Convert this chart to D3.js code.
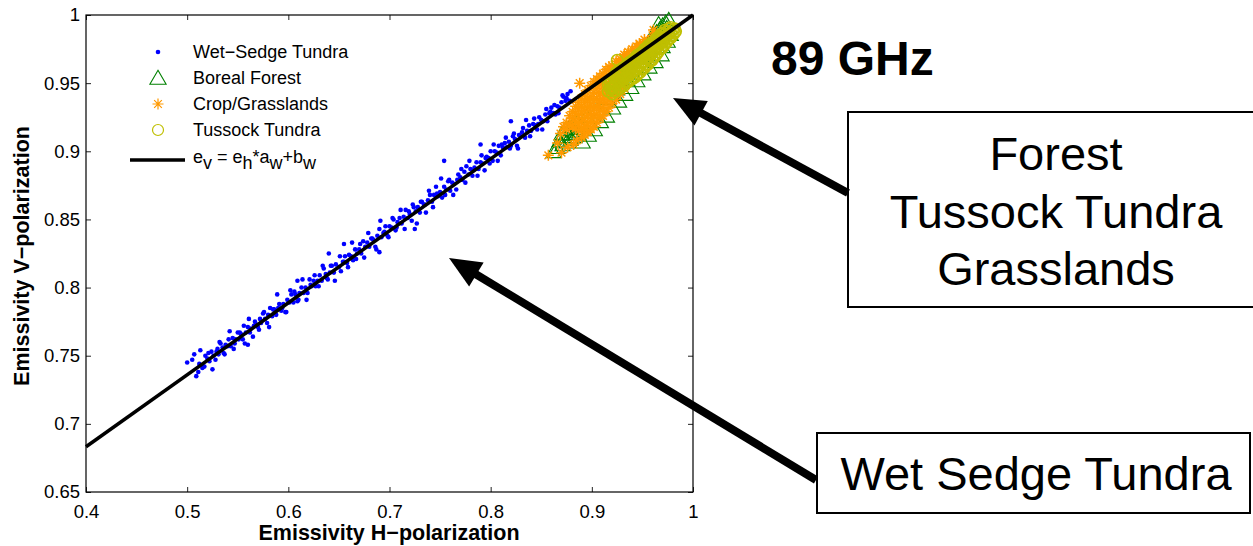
<!DOCTYPE html>
<html>
<head>
<meta charset="utf-8">
<script src="https://cdn.jsdelivr.net/npm/d3@7"></script>
<style>
  body { margin: 0; background: #fff; }
  svg { display: block; font-family: "Liberation Sans", Arial, Helvetica, sans-serif; }
</style>
</head>
<body>
<div class="chart"></div>
<script>
// Axis ticks and labels
var xTicks = [0.4, 0.5, 0.6, 0.7, 0.8, 0.9, 1];
var xTickLabels = ["0.4", "0.5", "0.6", "0.7", "0.8", "0.9", "1"];
var yTicks = [0.65, 0.7, 0.75, 0.8, 0.85, 0.9, 0.95, 1];
var yTickLabels = ["0.65", "0.7", "0.75", "0.8", "0.85", "0.9", "0.95", "1"];

// Regression line e_v = e_h*a_w + b_w
var fitA = 0.528;
var fitB = 0.472;
var fitRange = [0.4, 1];

var legendLabels = ["Wet\u2212Sedge Tundra", "Boreal Forest", "Crop/Grasslands", "Tussock Tundra"];
var boxLines = ["Forest", "Tussock Tundra", "Grasslands"];
var boxSingle = "Wet Sedge Tundra";
var titleText = "89 GHz";

// [emissivity H, emissivity V]
var wetSedge = [
  [0.500,0.745],[0.512,0.744],[0.515,0.741],[0.518,0.750],[0.520,0.748],[0.522,0.746],[0.524,0.753],
  [0.526,0.750],[0.528,0.747],[0.530,0.755],[0.531,0.751],[0.533,0.759],[0.535,0.756],[0.536,0.752],
  [0.538,0.758],[0.540,0.757],[0.541,0.762],[0.543,0.757],[0.545,0.763],[0.546,0.755],[0.548,0.762],
  [0.550,0.767],[0.551,0.762],[0.553,0.766],[0.555,0.762],[0.556,0.772],[0.558,0.767],[0.560,0.771],
  [0.562,0.767],[0.563,0.770],[0.565,0.764],[0.567,0.775],[0.568,0.773],[0.570,0.771],[0.572,0.777],
  [0.573,0.774],[0.575,0.781],[0.577,0.777],[0.579,0.774],[0.580,0.780],[0.582,0.785],[0.584,0.779],
  [0.586,0.784],[0.588,0.780],[0.590,0.785],[0.591,0.788],[0.593,0.783],[0.595,0.788],[0.597,0.782],
  [0.599,0.791],[0.601,0.789],[0.603,0.795],[0.605,0.789],[0.607,0.795],[0.609,0.790],[0.611,0.796],
  [0.613,0.800],[0.615,0.796],[0.617,0.800],[0.619,0.796],[0.621,0.806],[0.623,0.801],[0.625,0.805],
  [0.627,0.801],[0.629,0.805],[0.631,0.809],[0.633,0.805],[0.635,0.814],[0.637,0.810],[0.639,0.806],
  [0.641,0.811],[0.643,0.816],[0.645,0.811],[0.647,0.817],[0.650,0.815],[0.652,0.812],[0.654,0.819],
  [0.656,0.823],[0.658,0.818],[0.660,0.824],[0.662,0.823],[0.664,0.820],[0.666,0.828],[0.668,0.825],
  [0.670,0.828],[0.672,0.825],[0.674,0.834],[0.676,0.830],[0.678,0.833],[0.680,0.830],[0.682,0.836],
  [0.684,0.835],[0.686,0.830],[0.688,0.838],[0.690,0.843],[0.692,0.837],[0.694,0.840],[0.696,0.845],
  [0.698,0.838],[0.700,0.845],[0.702,0.844],[0.704,0.850],[0.706,0.842],[0.708,0.848],[0.710,0.851],
  [0.712,0.847],[0.714,0.852],[0.716,0.857],[0.718,0.851],[0.720,0.854],[0.722,0.849],[0.724,0.859],
  [0.726,0.856],[0.728,0.859],[0.730,0.855],[0.732,0.863],[0.734,0.861],[0.736,0.855],[0.738,0.864],
  [0.740,0.868],[0.742,0.863],[0.744,0.868],[0.746,0.874],[0.748,0.867],[0.750,0.870],[0.752,0.866],
  [0.754,0.874],[0.756,0.872],[0.758,0.878],[0.760,0.871],[0.762,0.877],[0.764,0.876],[0.766,0.872],
  [0.768,0.883],[0.770,0.881],[0.772,0.879],[0.774,0.885],[0.776,0.889],[0.778,0.883],[0.780,0.887],
  [0.782,0.882],[0.784,0.888],[0.786,0.892],[0.788,0.887],[0.790,0.892],[0.792,0.891],[0.794,0.886],
  [0.796,0.896],[0.798,0.895],[0.800,0.900],[0.802,0.893],[0.804,0.900],[0.806,0.899],[0.808,0.904],
  [0.810,0.897],[0.812,0.903],[0.814,0.906],[0.816,0.903],[0.818,0.907],[0.820,0.904],[0.822,0.911],
  [0.824,0.909],[0.826,0.904],[0.828,0.912],[0.830,0.911],[0.832,0.917],[0.834,0.910],[0.836,0.915],
  [0.838,0.919],[0.840,0.915],[0.842,0.920],[0.844,0.919],[0.846,0.916],[0.848,0.925],[0.850,0.923],
  [0.852,0.922],[0.854,0.927],[0.856,0.922],[0.858,0.928],[0.860,0.932],[0.862,0.928],[0.864,0.927],
  [0.866,0.933],[0.868,0.932],[0.870,0.936],[0.872,0.940],[0.874,0.937],[0.876,0.942],[0.878,0.937],
  [0.754,0.893],[0.609,0.805],[0.725,0.843],[0.640,0.825],[0.790,0.905],[0.690,0.826],[0.560,0.758],
  [0.820,0.922],[0.655,0.832],
  [0.505,0.747],[0.509,0.735],[0.513,0.754],[0.517,0.742],[0.521,0.752],[0.525,0.740],[0.529,0.753],
  [0.532,0.760],[0.537,0.751],[0.542,0.768],[0.547,0.759],[0.552,0.767],[0.557,0.759],[0.561,0.777],
  [0.566,0.772],[0.571,0.769],[0.576,0.782],[0.581,0.771],[0.585,0.784],[0.589,0.795],[0.594,0.785],
  [0.598,0.782],[0.602,0.798],[0.606,0.797],[0.610,0.791],[0.614,0.806],[0.618,0.791],[0.622,0.802],
  [0.626,0.809],[0.630,0.801],[0.634,0.816],[0.638,0.807],[0.642,0.816],[0.646,0.805],[0.651,0.823],
  [0.655,0.819],[0.659,0.815],[0.663,0.833],[0.667,0.821],[0.671,0.832],[0.675,0.822],[0.679,0.840],
  [0.683,0.836],[0.687,0.828],[0.691,0.849],[0.695,0.841],[0.699,0.837],[0.703,0.851],[0.707,0.844],
  [0.711,0.857],[0.715,0.843],[0.719,0.856],[0.723,0.861],[0.727,0.847],[0.731,0.863],[0.735,0.861],
  [0.739,0.871],[0.743,0.859],[0.747,0.869],[0.751,0.880],[0.755,0.868],[0.759,0.879],[0.763,0.868],
  [0.767,0.879],[0.771,0.887],[0.775,0.877],[0.779,0.893],[0.783,0.886],[0.787,0.882],[0.791,0.897],
  [0.795,0.895],[0.799,0.891],[0.803,0.905],[0.807,0.893],[0.811,0.905],[0.815,0.910],[0.819,0.902],
  [0.823,0.913],[0.827,0.902],[0.831,0.914],[0.835,0.923],[0.839,0.911],[0.843,0.924],[0.847,0.920],
  [0.851,0.916],[0.855,0.931],[0.859,0.929],[0.863,0.934],[0.867,0.928],[0.871,0.941],[0.875,0.939],
  [0.879,0.944],[0.507,0.751],[0.511,0.738]
];

var borealForest = [
  [0.862,0.899],[0.866,0.902],[0.868,0.907],[0.871,0.904],[0.873,0.910],[0.875,0.906],[0.877,0.912],
  [0.879,0.908],[0.881,0.914],[0.883,0.910],[0.885,0.916],[0.887,0.912],[0.889,0.918],[0.870,0.912],
  [0.874,0.915],[0.878,0.917],[0.882,0.919],[0.886,0.921],
  [0.891,0.906],[0.897,0.911],[0.903,0.915],[0.909,0.921],[0.915,0.925],[0.921,0.931],[0.927,0.936],
  [0.933,0.941],[0.939,0.946],[0.945,0.951],[0.951,0.956],[0.957,0.961],[0.963,0.965],[0.969,0.970],
  [0.950,0.975],[0.952,0.971],[0.955,0.978],[0.958,0.975],[0.958,0.982],[0.961,0.984],[0.962,0.980],
  [0.964,0.987],[0.966,0.993],[0.967,0.989],[0.968,0.985],[0.970,0.992],[0.970,0.976],[0.971,0.988],
  [0.973,0.994],[0.974,0.990],[0.975,0.980],[0.976,0.996],[0.978,0.985],
  [0.895,0.925],[0.905,0.930],[0.915,0.938],[0.925,0.945],[0.935,0.952],[0.945,0.960]
];

var cropGrass = [
  [0.866,0.906],
  [0.869,0.913],
  [0.872,0.918],
  [0.875,0.916],[0.875,0.921],
  [0.878,0.920],[0.878,0.926],
  [0.881,0.918],[0.881,0.924],[0.881,0.929],
  [0.884,0.917],[0.884,0.922],[0.884,0.928],[0.884,0.933],
  [0.887,0.915],[0.887,0.920],[0.887,0.926],[0.887,0.931],[0.887,0.936],
  [0.890,0.910],[0.890,0.916],[0.890,0.922],[0.890,0.928],[0.890,0.933],[0.890,0.939],
  [0.893,0.912],[0.893,0.918],[0.893,0.924],[0.893,0.930],[0.893,0.936],[0.893,0.942],
  [0.896,0.914],[0.896,0.920],[0.896,0.926],[0.896,0.932],[0.896,0.938],[0.896,0.945],
  [0.899,0.916],[0.899,0.922],[0.899,0.928],[0.899,0.934],[0.899,0.940],[0.899,0.948],
  [0.902,0.918],[0.902,0.925],[0.902,0.931],[0.902,0.937],[0.902,0.943],[0.902,0.951],
  [0.905,0.921],[0.905,0.927],[0.905,0.933],[0.905,0.939],[0.905,0.946],[0.905,0.953],
  [0.908,0.924],[0.908,0.930],[0.908,0.936],[0.908,0.942],[0.908,0.949],[0.908,0.955],
  [0.911,0.926],[0.911,0.932],[0.911,0.938],[0.911,0.944],[0.911,0.951],[0.911,0.957],
  [0.914,0.929],[0.914,0.935],[0.914,0.941],[0.914,0.947],[0.914,0.954],[0.914,0.960],
  [0.917,0.932],[0.917,0.938],[0.917,0.944],[0.917,0.950],[0.917,0.956],[0.917,0.962],
  [0.920,0.935],[0.920,0.941],[0.920,0.947],[0.920,0.953],[0.920,0.959],[0.920,0.963],
  [0.924,0.938],[0.924,0.944],[0.924,0.950],[0.924,0.956],[0.924,0.962],[0.924,0.966],
  [0.928,0.942],[0.928,0.948],[0.928,0.954],[0.928,0.960],[0.928,0.965],[0.928,0.968],
  [0.932,0.946],[0.932,0.952],[0.932,0.958],[0.932,0.963],[0.932,0.968],[0.932,0.971],
  [0.936,0.955],[0.936,0.961],[0.936,0.966],[0.936,0.970],[0.936,0.973],
  [0.940,0.959],[0.940,0.965],[0.940,0.970],[0.940,0.975],
  [0.944,0.963],[0.944,0.969],[0.944,0.973],[0.944,0.977],
  [0.948,0.967],[0.948,0.973],[0.948,0.978],
  [0.952,0.972],[0.952,0.977],[0.952,0.982],
  [0.956,0.976],[0.956,0.981],
  [0.960,0.980],[0.960,0.985],
  [0.857,0.897],[0.888,0.950],[0.870,0.899],[0.876,0.903],[0.882,0.905],[0.885,0.908],
  [0.947,0.979],[0.961,0.989]
];

var tussockTundra = [
  [0.916,0.944],[0.916,0.949],
  [0.920,0.942],[0.920,0.947],[0.920,0.952],
  [0.924,0.944],[0.924,0.949],[0.924,0.954],[0.924,0.958],
  [0.928,0.946],[0.928,0.951],[0.928,0.956],[0.928,0.960],
  [0.932,0.948],[0.932,0.953],[0.932,0.958],[0.932,0.962],
  [0.936,0.951],[0.936,0.956],[0.936,0.961],[0.936,0.965],
  [0.940,0.953],[0.940,0.958],[0.940,0.963],[0.940,0.967],
  [0.944,0.955],[0.944,0.960],[0.944,0.965],[0.944,0.970],
  [0.948,0.958],[0.948,0.963],[0.948,0.968],[0.948,0.972],
  [0.952,0.961],[0.952,0.966],[0.952,0.971],[0.952,0.975],
  [0.956,0.964],[0.956,0.969],[0.956,0.974],[0.956,0.978],
  [0.960,0.967],[0.960,0.972],[0.960,0.977],[0.960,0.980],
  [0.964,0.971],[0.964,0.975],[0.964,0.980],[0.964,0.983],
  [0.968,0.975],[0.968,0.979],[0.968,0.983],[0.968,0.986],
  [0.972,0.978],[0.972,0.982],[0.972,0.986],[0.972,0.989],
  [0.976,0.982],[0.976,0.986],[0.976,0.990],
  [0.980,0.985],[0.980,0.989],
  [0.983,0.988],
  [0.918,0.946],[0.918,0.951],
  [0.922,0.944],[0.922,0.949],[0.922,0.954],
  [0.926,0.946],[0.926,0.951],[0.926,0.956],[0.926,0.959],
  [0.930,0.948],[0.930,0.953],[0.930,0.957],[0.930,0.961],
  [0.934,0.950],[0.934,0.955],[0.934,0.960],[0.934,0.963],
  [0.938,0.952],[0.938,0.957],[0.938,0.962],[0.938,0.966],
  [0.942,0.954],[0.942,0.959],[0.942,0.964],[0.942,0.968],
  [0.946,0.957],[0.946,0.962],[0.946,0.967],[0.946,0.971],
  [0.950,0.960],[0.950,0.965],[0.950,0.969],[0.950,0.973],
  [0.954,0.963],[0.954,0.968],[0.954,0.972],[0.954,0.976],
  [0.958,0.966],[0.958,0.971],[0.958,0.975],[0.958,0.979],
  [0.962,0.969],[0.962,0.974],[0.962,0.978],[0.962,0.981],
  [0.966,0.973],[0.966,0.977],[0.966,0.981],[0.966,0.984],
  [0.970,0.976],[0.970,0.980],[0.970,0.984],[0.970,0.987],
  [0.974,0.980],[0.974,0.984],[0.974,0.988],
  [0.978,0.983],[0.978,0.987],[0.978,0.991],
  [0.982,0.987],[0.982,0.990],
  [0.925,0.967],[0.921,0.946],[0.918,0.950],[0.930,0.958]
];

// Colours
var blue = "#0000ff";
var green = "#008000";
var orange = "#ff9900";
var olive = "#bfbf00";

// Define SVG area dimensions
var svgWidth = 1253;
var svgHeight = 546;

// Plot box placement
var chartMargin = { top: 15, left: 86 };
var width = 607;
var height = 477;

var svg = d3.select(".chart")
  .append("svg")
  .attr("width", svgWidth)
  .attr("height", svgHeight);

var chart = svg.append("g")
  .attr("transform", `translate(${chartMargin.left}, ${chartMargin.top})`);

// Scales
var xScale = d3.scaleLinear().domain([0.4, 1]).range([0, width]);
var yScale = d3.scaleLinear().domain([0.65, 1]).range([height, 0]);

// Marker shapes
function trianglePath(s) {
  return "M0," + (-s * 0.62) + "L" + (s * 0.58) + "," + (s * 0.38) + "L" + (-s * 0.58) + "," + (s * 0.38) + "Z";
}
function asteriskPath(r) {
  var k = r * 0.7;
  return "M" + (-r) + ",0H" + r + "M0," + (-r) + "V" + r +
    "M" + (-k) + "," + (-k) + "L" + k + "," + k + "M" + (-k) + "," + k + "L" + k + "," + (-k);
}

// Axes: MATLAB-style inner ticks on all four sides
var tickFont = "18.5px";
var bottomAxis = d3.axisBottom(xScale).tickValues(xTicks).tickSize(-5).tickSizeOuter(0).tickPadding(13)
  .tickFormat(function(d, i) { return xTickLabels[i]; });
var leftAxis = d3.axisLeft(yScale).tickValues(yTicks).tickSize(-5).tickSizeOuter(0).tickPadding(6)
  .tickFormat(function(d, i) { return yTickLabels[i]; });
var topAxis = d3.axisTop(xScale).tickValues(xTicks).tickSize(-5).tickSizeOuter(0).tickFormat("");
var rightAxis = d3.axisRight(yScale).tickValues(yTicks).tickSize(-5).tickSizeOuter(0).tickFormat("");

var gx = chart.append("g").attr("transform", `translate(0, ${height})`).call(bottomAxis);
var gy = chart.append("g").call(leftAxis);
var gt = chart.append("g").call(topAxis);
var gr = chart.append("g").attr("transform", `translate(${width}, 0)`).call(rightAxis);

[gx, gy, gt, gr].forEach(function(g) {
  g.select(".domain").remove();
  g.selectAll("line").attr("stroke", "#222");
  g.selectAll("text")
    .style("font-family", '"Liberation Sans", Arial, sans-serif')
    .style("font-size", tickFont)
    .attr("fill", "#000");
});

// Plot box
chart.append("rect")
  .attr("width", width)
  .attr("height", height)
  .attr("fill", "none")
  .attr("stroke", "#000")
  .attr("stroke-width", 1.2);

// Wet sedge points
chart.append("g").selectAll("circle")
  .data(wetSedge)
  .enter()
  .append("circle")
  .attr("cx", function(d) { return xScale(d[0]); })
  .attr("cy", function(d) { return yScale(d[1]); })
  .attr("r", 2.3)
  .attr("fill", blue);

// Boreal forest triangles
chart.append("g").selectAll("path")
  .data(borealForest)
  .enter()
  .append("path")
  .attr("transform", function(d) { return `translate(${xScale(d[0])}, ${yScale(d[1])})`; })
  .attr("d", trianglePath(13))
  .attr("fill", "none")
  .attr("stroke", green)
  .attr("stroke-width", 1.1);

// Crop / grassland asterisks
chart.append("g").selectAll("path")
  .data(cropGrass)
  .enter()
  .append("path")
  .attr("transform", function(d) { return `translate(${xScale(d[0])}, ${yScale(d[1])})`; })
  .attr("d", asteriskPath(5.5))
  .attr("fill", "none")
  .attr("stroke", orange)
  .attr("stroke-width", 1.5);

// Tussock tundra circles
chart.append("g").selectAll("circle")
  .data(tussockTundra)
  .enter()
  .append("circle")
  .attr("cx", function(d) { return xScale(d[0]); })
  .attr("cy", function(d) { return yScale(d[1]); })
  .attr("r", 5.5)
  .attr("fill", "none")
  .attr("stroke", olive)
  .attr("stroke-width", 1.6);

// Regression line
var fitLine = d3.line()
  .x(function(d) { return xScale(d); })
  .y(function(d) { return yScale(d * fitA + fitB); });

chart.append("path")
  .datum(fitRange)
  .attr("d", fitLine)
  .attr("fill", "none")
  .attr("stroke", "#000")
  .attr("stroke-width", 3.5);

// Axis labels
svg.append("text")
  .attr("transform", "translate(29, 256) rotate(-90)")
  .attr("text-anchor", "middle")
  .style("font-size", "21.5px")
  .style("font-weight", "bold")
  .text("Emissivity V\u2212polarization");

svg.append("text")
  .attr("x", 389)
  .attr("y", 540)
  .attr("text-anchor", "middle")
  .style("font-size", "21.5px")
  .style("font-weight", "bold")
  .text("Emissivity H\u2212polarization");

// Legend
var legend = svg.append("g").style("font-size", "18px");
var legendX = 158;
var legendTextX = 193;
var legendRows = [52, 78, 104, 130, 157];

legend.append("circle").attr("cx", legendX).attr("cy", legendRows[0]).attr("r", 2.3).attr("fill", blue);
legend.append("path").attr("transform", `translate(${legendX}, ${legendRows[1] + 1})`)
  .attr("d", trianglePath(14)).attr("fill", "none").attr("stroke", green).attr("stroke-width", 1.1);
legend.append("path").attr("transform", `translate(${legendX}, ${legendRows[2]})`)
  .attr("d", asteriskPath(5.5)).attr("fill", "none").attr("stroke", orange).attr("stroke-width", 1.2);
legend.append("circle").attr("cx", legendX).attr("cy", legendRows[3]).attr("r", 5.5)
  .attr("fill", "none").attr("stroke", olive).attr("stroke-width", 1.2);
legend.append("line").attr("x1", 130).attr("x2", 185).attr("y1", legendRows[4] + 3).attr("y2", legendRows[4] + 3)
  .attr("stroke", "#000").attr("stroke-width", 3.5);

legendLabels.forEach(function(label, i) {
  legend.append("text")
    .attr("x", legendTextX)
    .attr("y", legendRows[i] + 6)
    .text(label);
});

// e_v = e_h*a_w+b_w with subscripts
var eq = legend.append("text").attr("x", legendTextX).attr("y", legendRows[4] + 6);
var eqParts = [["e", 0], ["v", 6], [" = e", -6], ["h", 6], ["*a", -6], ["w", 6], ["+b", -6], ["w", 6]];
eqParts.forEach(function(p) {
  eq.append("tspan").attr("dy", p[1]).text(p[0]);
});

// Title
svg.append("text")
  .attr("x", 771)
  .attr("y", 75)
  .style("font-size", "48px")
  .style("font-weight", "bold")
  .text(titleText);

// Annotation boxes
svg.append("rect")
  .attr("x", 848).attr("y", 112)
  .attr("width", 420).attr("height", 195)
  .attr("fill", "#fff").attr("stroke", "#000").attr("stroke-width", 2);

boxLines.forEach(function(line, i) {
  svg.append("text")
    .attr("x", 1056)
    .attr("y", 170 + i * 57.5)
    .attr("text-anchor", "middle")
    .style("font-size", "47px")
    .text(line);
});

svg.append("rect")
  .attr("x", 817).attr("y", 433)
  .attr("width", 433).attr("height", 80)
  .attr("fill", "#fff").attr("stroke", "#000").attr("stroke-width", 2);

svg.append("text")
  .attr("x", 1036)
  .attr("y", 490)
  .attr("text-anchor", "middle")
  .style("font-size", "47px")
  .text(boxSingle);

// Arrows pointing at the two groups
function drawArrow(tail, tip) {
  var dx = tip[0] - tail[0];
  var dy = tip[1] - tail[1];
  var len = Math.sqrt(dx * dx + dy * dy);
  var ux = dx / len, uy = dy / len;
  var headLen = 32, headHalf = 14;
  var bx = tip[0] - ux * headLen, by = tip[1] - uy * headLen;
  svg.append("line")
    .attr("x1", tail[0]).attr("y1", tail[1])
    .attr("x2", bx + ux * 4).attr("y2", by + uy * 4)
    .attr("stroke", "#000").attr("stroke-width", 8);
  svg.append("path")
    .attr("d", "M" + tip[0] + "," + tip[1] +
      "L" + (bx - uy * headHalf) + "," + (by + ux * headHalf) +
      "L" + (bx + uy * headHalf) + "," + (by - ux * headHalf) + "Z")
    .attr("fill", "#000");
}

drawArrow([848, 193], [673, 98]);
drawArrow([816, 480], [449, 258]);
</script>
</body>
</html>
